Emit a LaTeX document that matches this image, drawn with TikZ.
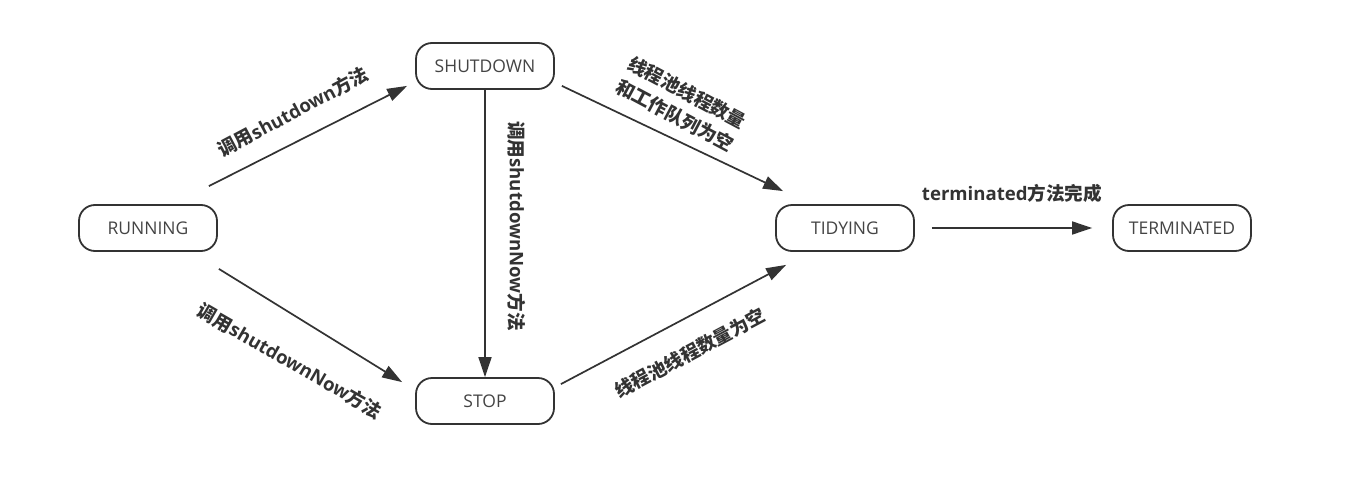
\documentclass[tikz,border=0pt]{standalone}
\usepackage{fontspec}
\setmainfont{Open Sans}
\newfontfamily\cjkfont{Noto Sans CJK SC}
\usetikzlibrary{arrows.meta}
\tikzset{>={Triangle[length=20pt,width=13pt]}}
\definecolor{LineColor}{RGB}{51,51,51}
\definecolor{TextColor}{RGB}{68,68,68}
\newcommand{\zh}[1]{{\cjkfont #1}}
\tikzset{
	state/.style={draw=LineColor,line width=1.8pt,rounded corners=16pt,minimum width=138pt,minimum height=46pt,inner sep=0pt,text=TextColor,font=\fontsize{17.5}{19}\selectfont},
	edge/.style={->,draw=LineColor,line width=1.7pt},
	edgelabel/.style={text=LineColor,font=\bfseries\fontsize{18.6}{26}\selectfont,align=center,inner sep=0pt}
}

\begin{document}
\begin{tikzpicture}[x=1pt,y=-1pt]
		% border
		\useasboundingbox[fill=white] (0,0) rectangle (1356,495);
		% states
		\node[state] (running)    at (148,228)  {RUNNING};
		\node[state] (shutdown)   at (485,66)   {SHUTDOWN};
		\node[state] (stop)       at (485,401)  {STOP};
		\node[state] (tidying)    at (845,228)  {TIDYING};
		\node[state] (terminated) at (1182,228) {TERMINATED};

		% transitions
		\draw[edge] ([xshift=-9pt,yshift=18pt]running.north east) -- ([xshift=-8pt,yshift=4pt]shutdown.south west);
		\draw[edge] ([xshift=1pt,yshift=-17pt]running.south east) -- ([xshift=-13pt,yshift=-5pt]stop.north west);
		\draw[edge] (shutdown) -- (stop);
		\draw[edge] ([xshift=7pt,yshift=4pt]shutdown.south east) -- ([xshift=8pt,yshift=13pt]tidying.north west);
		\draw[edge] ([xshift=6pt,yshift=-7pt]stop.north east) -- ([xshift=11pt,yshift=-13pt]tidying.south west);
		\draw[edge,shorten <=17pt,shorten >=20pt] (tidying) -- (terminated);

		% labels
		\node[edgelabel,rotate=28]  (lshutdown)  at (293,112) {\zh{调用}shutdown\zh{方法}};
		\node[edgelabel,rotate=-90] (lnowdown)   at (517,226) {\zh{调用}shutdownNow\zh{方法}};
		\node[edgelabel,rotate=-30] (lnowstop)   at (290,361) {\zh{调用}shutdownNow\zh{方法}};
		\node[edgelabel,rotate=-28] (lempty)     at (681,104) {\zh{线程池线程数量}\\\zh{和工作队列为空}};
		\node[edgelabel,rotate=28]  (lnothread)  at (690,353) {\zh{线程池线程数量为空}};
		\node[edgelabel]            (lfinish)    at (1012,193) {terminated\zh{方法完成}};
\end{tikzpicture}
\end{document}
